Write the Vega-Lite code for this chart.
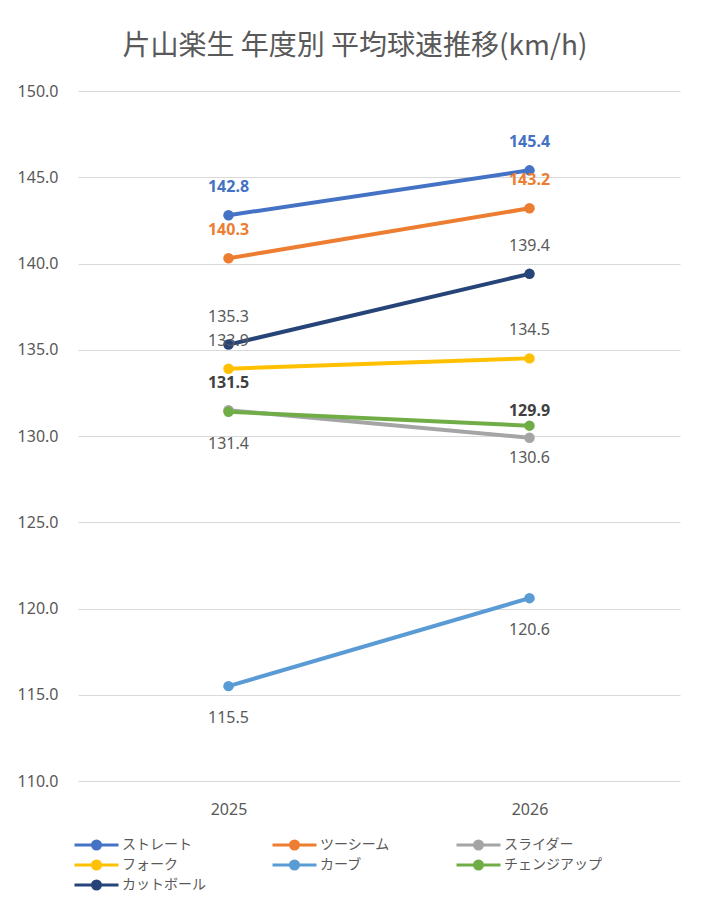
{
  "$schema": "https://vega.github.io/schema/vega-lite/v6.json",
  "autosize": {"type": "none"},
  "padding": {"left": 78, "top": 91, "right": 25, "bottom": 122},
  "width": 602,
  "height": 690,
  "background": "white",
  "title": {
    "text": "片山楽生 年度別 平均球速推移(km/h)",
    "font": "Noto Sans CJK JP",
    "fontSize": 28,
    "fontWeight": "normal",
    "color": "#595959",
    "anchor": "middle",
    "dx": -24,
    "offset": 22
  },
  "data": {
    "values": [
      {"pitch": "ストレート", "year": "2025", "v": 142.8},
      {"pitch": "ストレート", "year": "2026", "v": 145.4},
      {"pitch": "ツーシーム", "year": "2025", "v": 140.3},
      {"pitch": "ツーシーム", "year": "2026", "v": 143.2},
      {"pitch": "スライダー", "year": "2025", "v": 131.5},
      {"pitch": "スライダー", "year": "2026", "v": 129.9},
      {"pitch": "フォーク", "year": "2025", "v": 133.9},
      {"pitch": "フォーク", "year": "2026", "v": 134.5},
      {"pitch": "カーブ", "year": "2025", "v": 115.5},
      {"pitch": "カーブ", "year": "2026", "v": 120.6},
      {"pitch": "チェンジアップ", "year": "2025", "v": 131.4},
      {"pitch": "チェンジアップ", "year": "2026", "v": 130.6},
      {"pitch": "カットボール", "year": "2025", "v": 135.3},
      {"pitch": "カットボール", "year": "2026", "v": 139.4}
    ]
  },
  "encoding": {
    "x": {
      "field": "year",
      "type": "ordinal",
      "scale": {"type": "point", "padding": 0.5},
      "axis": {
        "title": null,
        "labelAngle": 0,
        "domain": false,
        "ticks": false,
        "grid": false,
        "labelPadding": 20,
        "labelFontSize": 16,
        "labelColor": "#595959",
        "labelFont": "Noto Sans"
      }
    },
    "y": {
      "field": "v",
      "type": "quantitative",
      "scale": {"domain": [110, 150], "nice": false, "zero": false},
      "axis": {
        "title": null,
        "values": [110, 115, 120, 125, 130, 135, 140, 145, 150],
        "format": ".1f",
        "domain": false,
        "ticks": false,
        "labelPadding": 20,
        "labelFontSize": 16,
        "labelColor": "#595959",
        "labelFont": "Noto Sans",
        "gridColor": "#d9d9d9",
        "gridWidth": 1
      }
    }
  },
  "layer": [
    {
      "mark": {"type": "line", "strokeWidth": 4, "point": {"filled": true, "size": 110}},
      "encoding": {
        "color": {
          "field": "pitch",
          "type": "nominal",
          "sort": null,
          "scale": {
            "domain": ["ストレート", "ツーシーム", "スライダー", "フォーク", "カーブ", "チェンジアップ", "カットボール"],
            "range": ["#4472C4", "#ED7D31", "#A5A5A5", "#FFC000", "#5B9BD5", "#70AD47", "#264478"]
          },
          "legend": {
            "title": null,
            "orient": "none",
            "legendX": -4,
            "legendY": 747,
            "direction": "horizontal",
            "columns": 3,
            "columnPadding": 60,
            "rowPadding": 0,
            "labelFont": "Noto Sans CJK JP",
            "labelFontSize": 14,
            "labelColor": "#595959",
            "labelOffset": 34,
            "symbolType": "M-1.3,0L7.5,0M2.3,0A0.8,0.8,0,1,0,3.9,0A0.8,0.8,0,1,0,2.3,0Z",
            "symbolSize": 100,
            "symbolStrokeWidth": 3,
            "encode": {
              "symbols": {"update": {"fill": {"scale": "color", "field": "value"}, "fillOpacity": {"value": 1}}}
            }
          }
        }
      }
    },
    {
      "transform": [{"filter": {"field": "pitch", "oneOf": ["ストレート", "ツーシーム"]}}],
      "mark": {"type": "text", "dy": -28, "fontSize": 16, "fontWeight": "bold", "font": "Noto Sans"},
      "encoding": {
        "text": {"field": "v", "type": "quantitative", "format": ".1f"},
        "color": {"field": "pitch", "type": "nominal", "legend": null}
      }
    },
    {
      "transform": [{"filter": {"field": "pitch", "oneOf": ["フォーク", "カットボール"]}}],
      "mark": {"type": "text", "dy": -28, "fontSize": 16, "color": "#595959", "font": "Noto Sans"},
      "encoding": {
        "text": {"field": "v", "type": "quantitative", "format": ".1f"}
      }
    },
    {
      "transform": [{"filter": {"field": "pitch", "oneOf": ["スライダー"]}}],
      "mark": {"type": "text", "dy": -27, "fontSize": 16, "fontWeight": "bold", "color": "#404040", "font": "Noto Sans"},
      "encoding": {
        "text": {"field": "v", "type": "quantitative", "format": ".1f"}
      }
    },
    {
      "transform": [{"filter": {"field": "pitch", "oneOf": ["チェンジアップ", "カーブ"]}}],
      "mark": {"type": "text", "dy": 32, "fontSize": 16, "color": "#595959", "font": "Noto Sans"},
      "encoding": {
        "text": {"field": "v", "type": "quantitative", "format": ".1f"}
      }
    }
  ],
  "config": {
    "view": {"stroke": null}
  }
}
